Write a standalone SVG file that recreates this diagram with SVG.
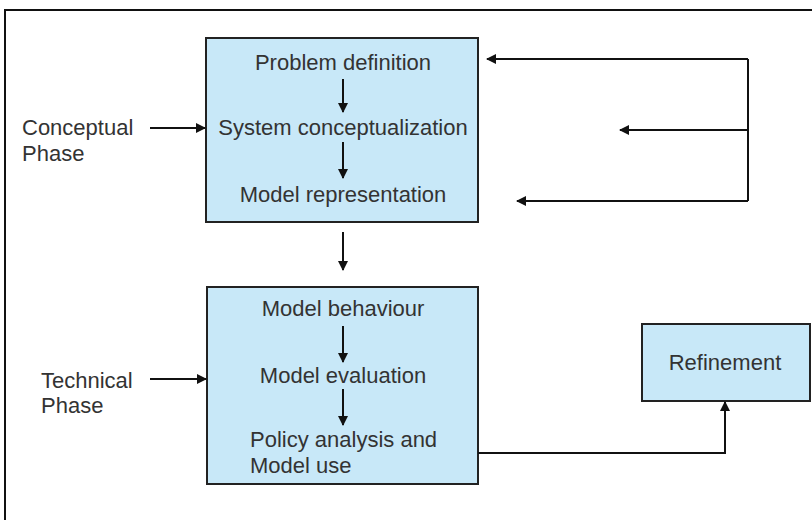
<svg xmlns="http://www.w3.org/2000/svg" width="812" height="520" viewBox="0 0 812 520">
  <style>
    .box { fill: #c8e8f8; stroke: #222; stroke-width: 2; }
    .lbl { font-family: "Liberation Sans", Arial, sans-serif; font-size: 22px; fill: #333; }
    .mid { text-anchor: middle; }
    .wire { fill: none; stroke: #111; stroke-width: 2; }
  </style>
  <defs>
    <marker id="arrow" viewBox="0 0 10 10" refX="9" refY="5" markerWidth="5" markerHeight="5" orient="auto">
      <path d="M0,0 L10,5 L0,10 z" fill="#111"/>
    </marker>
  </defs>
  <rect width="812" height="520" fill="#fff"/>
  <!-- outer frame -->
  <path d="M5,520 V10 H812" fill="none" stroke="#111" stroke-width="2"/>

  <g id="conceptual">
    <rect class="box" x="206" y="38" width="272" height="184"/>
    <text class="lbl mid" x="343" y="70">Problem definition</text>
    <text class="lbl mid" x="343" y="135">System conceptualization</text>
    <text class="lbl mid" x="343" y="202">Model representation</text>
  </g>

  <g id="technical">
    <rect class="box" x="207" y="287" width="271" height="197"/>
    <text class="lbl mid" x="343" y="316">Model behaviour</text>
    <text class="lbl mid" x="343" y="383">Model evaluation</text>
    <text class="lbl" x="250" y="447">Policy analysis and</text>
    <text class="lbl" x="250" y="473">Model use</text>
  </g>

  <g id="refinement">
    <rect class="box" x="642" y="324" width="168" height="77"/>
    <text class="lbl mid" x="725" y="370">Refinement</text>
  </g>

  <g id="phase-labels">
    <text class="lbl" x="22" y="135">Conceptual</text>
    <text class="lbl" x="22" y="161">Phase</text>
    <text class="lbl" x="41" y="388">Technical</text>
    <text class="lbl" x="41" y="413">Phase</text>
  </g>

  <g id="connectors" class="wire" marker-end="url(#arrow)">
    <line x1="343" y1="79" x2="343" y2="112"/>
    <line x1="343" y1="142" x2="343" y2="178"/>
    <line x1="343" y1="232" x2="343" y2="270"/>
    <line x1="343" y1="326" x2="343" y2="362"/>
    <line x1="343" y1="389" x2="343" y2="425"/>
    <line x1="150" y1="128" x2="205" y2="128"/>
    <line x1="150" y1="379" x2="206" y2="379"/>
    <path d="M748,59 H487" />
    <path d="M748,130 H620" />
    <path d="M748,201 H517" />
    <path d="M478,453 H725 V402" />
    <line x1="748" y1="59" x2="748" y2="201" marker-end="none"/>
  </g>
</svg>
